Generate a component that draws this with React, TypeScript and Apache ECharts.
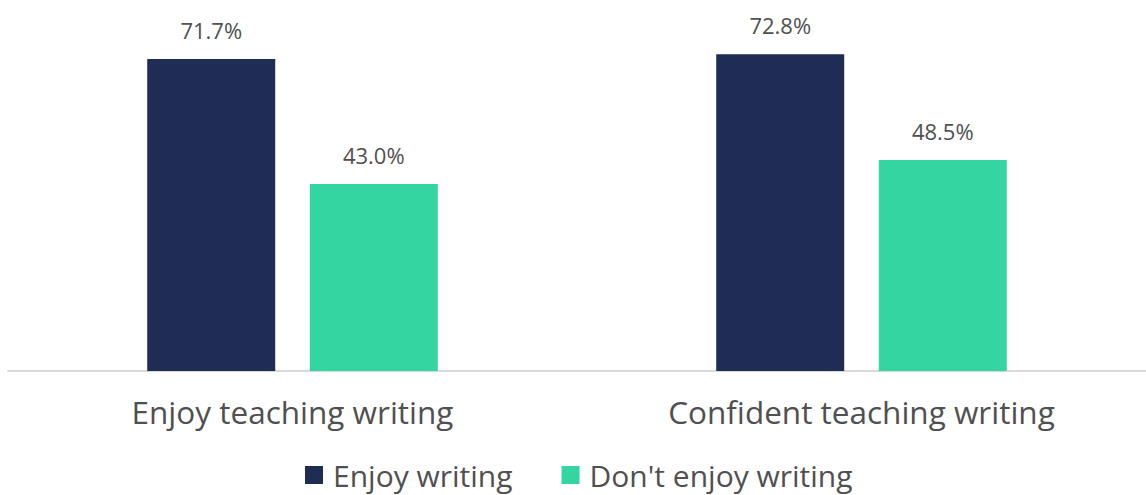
import React, { useEffect, useRef } from "react";
import * as echarts from "echarts";

const categories = ["Enjoy teaching writing", "Confident teaching writing"];
const seriesNames = ["Enjoy writing", "Don't enjoy writing"];
const enjoyWriting = [71.7, 72.8];
const dontEnjoyWriting = [43.0, 48.5];
const colors = ["#1f2d54", "#33d6a0"];

export default function App() {
  const ref = useRef<HTMLDivElement>(null);
  useEffect(() => {
    if (!ref.current) return;
    const chart = echarts.init(ref.current, null, { renderer: "svg" });
    const font = "Open Sans";
    const label = {
      show: true,
      position: "top",
      distance: 18,
      fontFamily: font,
      fontSize: 22,
      color: "#505050",
      formatter: (p: any) => p.value.toFixed(1) + "%",
    };
    chart.setOption({
      animation: false,
      grid: { left: 8, top: 23, width: 1146, height: 348, containLabel: false },
      legend: {
        top: 455,
        left: 300,
        itemWidth: 18,
        itemHeight: 18,
        itemGap: 49,
        icon: "rect",
        textStyle: { fontFamily: font, fontSize: 30, lineHeight: 30, color: "#505050", padding: [0, 0, 0, 5] },
        data: seriesNames,
      },
      xAxis: {
        type: "category",
        data: categories,
        axisLine: { lineStyle: { color: "#d9d9d9", width: 2 } },
        axisTick: { show: false },
        axisLabel: { fontFamily: font, fontSize: 31.5, color: "#505050", margin: 24 },
      },
      yAxis: { type: "value", min: 0, max: 80, show: false, splitLine: { show: false } },
      series: [
        { name: seriesNames[0], type: "bar", data: enjoyWriting, barWidth: 128, barGap: "27%", itemStyle: { color: colors[0] }, label },
        { name: seriesNames[1], type: "bar", data: dontEnjoyWriting, barWidth: 128, barGap: "27%", itemStyle: { color: colors[1] }, label },
      ],
    });
    return () => chart.dispose();
  }, []);
  return (
    <div
      ref={ref}
      style={{ position: "absolute", left: 0, top: 0, width: 1146, height: 495 }}
    />
  );
}
